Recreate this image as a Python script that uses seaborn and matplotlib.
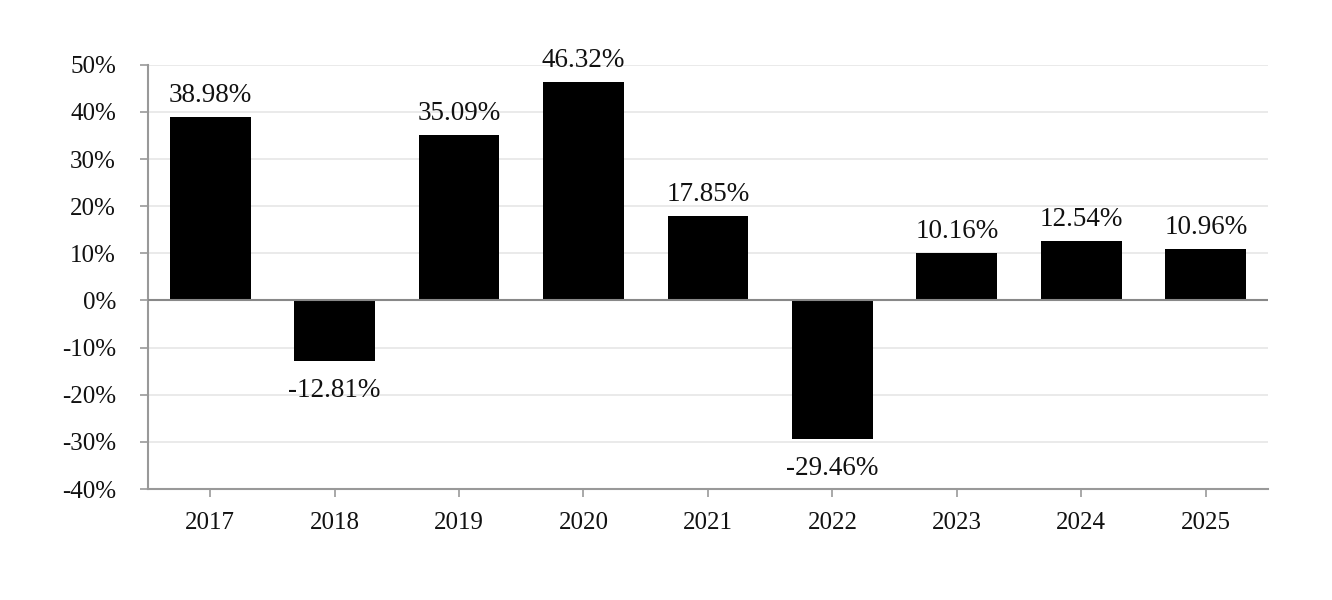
import pandas as pd
import matplotlib.pyplot as plt
import seaborn as sns
from matplotlib.ticker import FuncFormatter

# data
years = ['2017', '2018', '2019', '2020', '2021', '2022', '2023', '2024', '2025']
returns = [38.98, -12.81, 35.09, 46.32, 17.85, -29.46, 10.16, 12.54, 10.96]

df = pd.DataFrame({'Year': years, 'Return': returns})

sns.set_style('ticks')
plt.rcParams['font.family'] = ['Liberation Serif', 'DejaVu Serif']

fig = plt.figure(figsize=(13.32, 6.0), dpi=100)
ax = fig.add_axes([0.111, 0.185, 0.841, 0.707])

sns.barplot(data=df, x='Year', y='Return', color='black', width=0.65,
            saturation=1, linewidth=0, ax=ax, zorder=3)

# value labels
for i, v in enumerate(df['Return']):
    off = 6.5 if v >= 0 else -12
    va = 'bottom' if v >= 0 else 'top'
    ax.annotate(f'{v:.2f}%', (i, v), xytext=(0, off), textcoords='offset points',
                ha='center', va=va, fontsize=19.5, color='#111111')

ax.set_ylim(-40, 50)
ax.set_yticks(range(-40, 51, 10))
ax.yaxis.set_major_formatter(FuncFormatter(lambda y, _: f'{y:.0f}%'))
ax.set_xlim(-0.5, len(years) - 0.5)
ax.grid(axis='y', color='#e6e6e6', linewidth=1.2, zorder=0)
ax.axhline(0, color='#888888', linewidth=1.5, zorder=4)

for s in ['top', 'right']:
    ax.spines[s].set_visible(False)
for s in ['left', 'bottom']:
    ax.spines[s].set_color('#999999')
    ax.spines[s].set_linewidth(1.5)

ax.tick_params(axis='both', length=6, width=1.2, color='#999999',
               labelsize=18, labelcolor='#111111')
ax.tick_params(axis='y', pad=17, left=True)
ax.tick_params(axis='x', pad=10.5, bottom=True)
ax.set_xlabel('')
ax.set_ylabel('')

plt.savefig('out.png', dpi=100)
